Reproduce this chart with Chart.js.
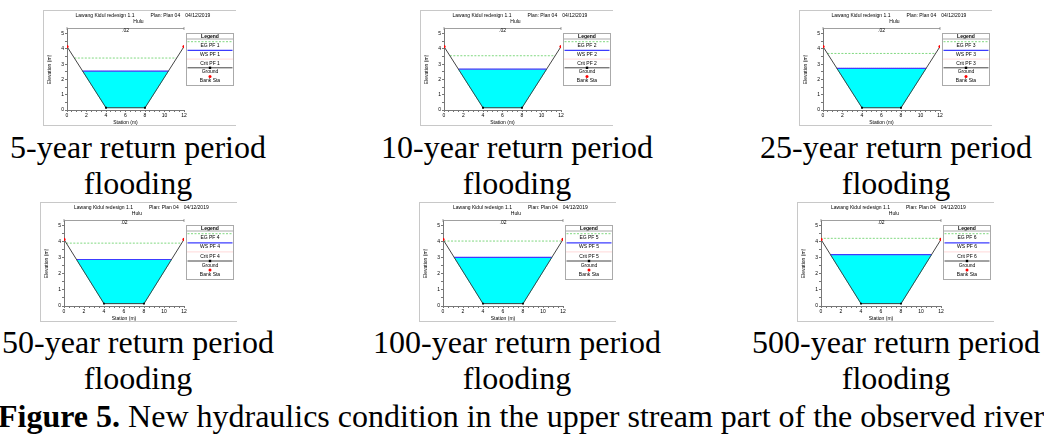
<!DOCTYPE html>
<html>
<head>
<meta charset="utf-8">
<script src="https://cdn.jsdelivr.net/npm/chart.js@4.4.1/dist/chart.umd.min.js"></script>
<style>
  body { margin: 0; width: 1044px; height: 435px; background: #fff; position: relative; overflow: hidden; }
  canvas { position: absolute; }
  .frame { position: absolute; box-sizing: border-box; border: 1px solid #c8c8c8; border-right: none; pointer-events: none; }
  .cap { position: absolute; width: 400px; text-align: center; font-family: 'Liberation Serif', 'Times New Roman', serif; font-size: 32px; line-height: 36px; color: #000; }
  .fig { position: absolute; left: -2px; top: 398px; white-space: nowrap; font-family: 'Liberation Serif', 'Times New Roman', serif; font-size: 32px; line-height: 36px; color: #000; }
</style>
</head>
<body>
<script>
// cross section geometry (station m, elevation m)
const stations = [0, 4, 8, 12];
const groundElev = [4.15, 0.15, 0.15, 4.15];
const bankStations = [0, 12];

// one profile per return period
const profiles = ['PF 1', 'PF 2', 'PF 3', 'PF 4', 'PF 5', 'PF 6'];
const wsElev = [2.55, 2.67, 2.73, 2.90, 3.03, 3.20];
const egElev = [3.40, 3.55, 3.70, 3.92, 4.05, 4.22];
const critElev = [2.55, 2.67, 2.73, 2.90, 3.03, 3.20];
const captions = ['5-year return period', '10-year return period', '25-year return period',
                  '50-year return period', '100-year return period', '500-year return period'];

const xTickLabels = [0, 2, 4, 6, 8, 10, 12];
const yTickLabels = [0, 1, 2, 3, 4, 5];
const titleParts = ['Lawang Kidul redesign 1.1', 'Plan: Plan 04', '04/12/2019'];
const reachName = 'Hulu';
const manningN = '.02';

// layout of the two rows of panels
const rowLeft = [[43, 420, 799], [40, 419, 797]];
const rowTop = [10, 202];
const rowW = [193, 197];
const rowH = [116, 120];
const rowPlotRight = [141, 144];
const rowLegendH = [52, 54];
const capCenter = [138, 517, 896];
const capTop = [129, 324];

const FONT = '"Liberation Sans", Arial, sans-serif';

// station where the ground reaches a level on the left (0) or right (1) bank
function groundAt(level, side) {
  const n = stations.length;
  const a = side === 0 ? 0 : n - 2;
  const b = a + 1;
  const t = (level - groundElev[a]) / (groundElev[b] - groundElev[a]);
  return stations[a] + t * (stations[b] - stations[a]);
}

function levelLine(level) {
  return [{ x: groundAt(level, 0), y: level }, { x: groundAt(level, 1), y: level }];
}

const hecDecor = {
  id: 'hecDecor',
  afterDraw(chart, args, opts) {
    const { ctx, chartArea: a, scales: { x } } = chart;
    const mid = (a.left + a.right) / 2;
    ctx.save();
    ctx.fillStyle = '#000';
    ctx.font = '5px ' + FONT;
    ctx.textBaseline = 'middle';
    ctx.textAlign = 'left';
    // title pieces laid out with HEC-RAS style gaps
    let tx = mid - 50;
    const gaps = [16, 5];
    titleParts.forEach((t, k) => {
      ctx.fillText(t, tx, 5.5);
      tx += ctx.measureText(t).width + (gaps[k] || 0);
    });
    ctx.textAlign = 'center';
    ctx.fillText(reachName, mid + 13, 11.5);

    // roughness bracket
    const bx0 = x.getPixelForValue(stations[0]);
    const bx1 = x.getPixelForValue(stations[stations.length - 1]);
    const by = a.top - 0.5;
    ctx.strokeStyle = '#777';
    ctx.lineWidth = 0.7;
    ctx.beginPath();
    ctx.moveTo(bx0, by); ctx.lineTo(bx1, by);
    ctx.moveTo(bx0, by - 1.5); ctx.lineTo(bx0, by + 1.5);
    ctx.moveTo(bx1, by - 1.5); ctx.lineTo(bx1, by + 1.5);
    ctx.stroke();
    ctx.fillText(manningN, (bx0 + bx1) / 2, by + 2.5);

    // legend box
    const lx = Math.round(a.right) + 2.5, ly = 23.5, lw = opts.width, lh = opts.height;
    ctx.strokeStyle = '#aaa';
    ctx.lineWidth = 1;
    ctx.strokeRect(lx, ly, lw, lh);
    ctx.font = 'bold 5px ' + FONT;
    ctx.fillText('Legend', lx + lw / 2, ly + 2.8);
    ctx.beginPath(); ctx.moveTo(lx, ly + 5.5); ctx.lineTo(lx + lw, ly + 5.5); ctx.stroke();
    ctx.font = '5px ' + FONT;
    const step = (lh - 8.5) / 5;
    chart.data.datasets.filter(d => d.label).forEach((d, k) => {
      const sy = ly + 8.2 + k * step;
      if (d.showLine) {
        ctx.save();
        ctx.strokeStyle = d.borderColor;
        ctx.lineWidth = d.borderWidth;
        ctx.setLineDash(d.borderDash || []);
        ctx.beginPath(); ctx.moveTo(lx + 1, sy); ctx.lineTo(lx + lw - 1, sy); ctx.stroke();
        ctx.restore();
      }
      if (d.legendMarker) {
        ctx.fillStyle = d.pointBackgroundColor;
        if (d.pointStyle === 'rect') ctx.fillRect(lx + lw / 2 - 1.2, sy - 1.2, 2.4, 2.4);
        else { ctx.beginPath(); ctx.arc(lx + lw / 2, sy, 1.5, 0, Math.PI * 2); ctx.fill(); }
      }
      ctx.fillStyle = '#000';
      ctx.fillText(d.label, lx + lw / 2, sy + 4.3);
    });
    ctx.restore();
  }
};

profiles.forEach((pf, i) => {
  const row = Math.floor(i / 3), col = i % 3;
  const left = rowLeft[row][col], top = rowTop[row];
  const W = rowW[row], H = rowH[row];

  const frame = document.createElement('div');
  frame.className = 'frame';
  Object.assign(frame.style, { left: left + 'px', top: top + 'px', width: W + 'px', height: H + 'px' });

  const canvas = document.createElement('canvas');
  canvas.width = W; canvas.height = H;
  Object.assign(canvas.style, { left: left + 'px', top: top + 'px' });
  document.body.appendChild(canvas);
  document.body.appendChild(frame);

  const ws = wsElev[i];
  const water = [{ x: groundAt(ws, 0), y: ws }];
  for (let k = 1; k < stations.length - 1; k++) water.push({ x: stations[k], y: groundElev[k] });
  water.push({ x: groundAt(ws, 1), y: ws });

  new Chart(canvas, {
    type: 'scatter',
    data: {
      datasets: [
        { label: 'EG ' + pf, data: levelLine(egElev[i]), showLine: true, borderColor: '#80d880',
          borderDash: [2, 1.5], borderWidth: 1, pointRadius: 0, order: 4 },
        { label: 'WS ' + pf, data: levelLine(ws), showLine: true, borderColor: '#3c3cff',
          borderWidth: 1.2, pointRadius: 0, order: 2 },
        { label: 'Crit ' + pf, data: levelLine(critElev[i]), showLine: true, borderColor: '#ffb4b4',
          borderDash: [1, 1], borderWidth: 1, pointRadius: 0, order: 3 },
        { label: 'Ground', data: stations.map((s, k) => ({ x: s, y: groundElev[k] })), showLine: true,
          borderColor: '#444', borderWidth: 1, pointStyle: 'rect', pointRadius: [0, 1.3, 1.3, 0],
          pointBackgroundColor: '#000', pointBorderColor: '#000', pointBorderWidth: 0,
          legendMarker: true, order: 1 },
        { label: 'Bank Sta', data: bankStations.map(s => ({ x: s, y: groundElev[stations.indexOf(s)] })),
          showLine: false, pointRadius: 1.6, pointBackgroundColor: '#ff0000', pointBorderColor: '#ff0000',
          pointBorderWidth: 0, legendMarker: true, order: 0 },
        { data: water, showLine: true, fill: 'shape', backgroundColor: '#00ffff',
          borderColor: '#00ffff', borderWidth: 1, pointRadius: 0, order: 5 }
      ]
    },
    options: {
      responsive: false,
      animation: false,
      events: [],
      layout: { padding: { top: 19, right: W - rowPlotRight[row], left: 0, bottom: 0 } },
      scales: {
        x: {
          type: 'linear', min: 0, max: 12,
          border: { color: '#777', width: 1 },
          grid: { drawOnChartArea: false, tickLength: 2, color: '#777' },
          ticks: { stepSize: 0.5, autoSkip: false, maxRotation: 0, padding: 1, color: '#000',
                   font: { size: 5, family: FONT },
                   callback: v => xTickLabels.includes(v) ? String(v) : '' },
          title: { display: true, text: 'Station (m)', color: '#000', font: { size: 5, family: FONT },
                   padding: { top: 1, bottom: 0 } },
          afterFit: s => { s.height = 16; }
        },
        y: {
          min: 0, max: 5.3,
          border: { color: '#777', width: 1 },
          grid: { drawOnChartArea: false, tickLength: 2, color: '#777' },
          ticks: { stepSize: 0.5, includeBounds: false, autoSkip: false, padding: 1, color: '#000',
                   font: { size: 5, family: FONT },
                   callback: v => yTickLabels.includes(v) ? String(v) : '' },
          title: { display: true, text: 'Elevation (m)', color: '#000', font: { size: 5, family: FONT },
                   padding: { top: 4, bottom: 0 } },
          afterFit: s => { s.width = 24; }
        }
      },
      plugins: {
        legend: { display: false },
        tooltip: { enabled: false },
        hecDecor: { width: 47, height: rowLegendH[row] }
      }
    },
    plugins: [hecDecor]
  });

  const cap = document.createElement('div');
  cap.className = 'cap';
  cap.style.left = (capCenter[col] - 200) + 'px';
  cap.style.top = capTop[row] + 'px';
  cap.innerHTML = captions[i] + '<br>flooding';
  document.body.appendChild(cap);
});

const fig = document.createElement('div');
fig.className = 'fig';
fig.innerHTML = '<b>Figure 5.</b> New hydraulics condition in the upper stream part of the observed river';
document.body.appendChild(fig);
</script>
</body>
</html>
